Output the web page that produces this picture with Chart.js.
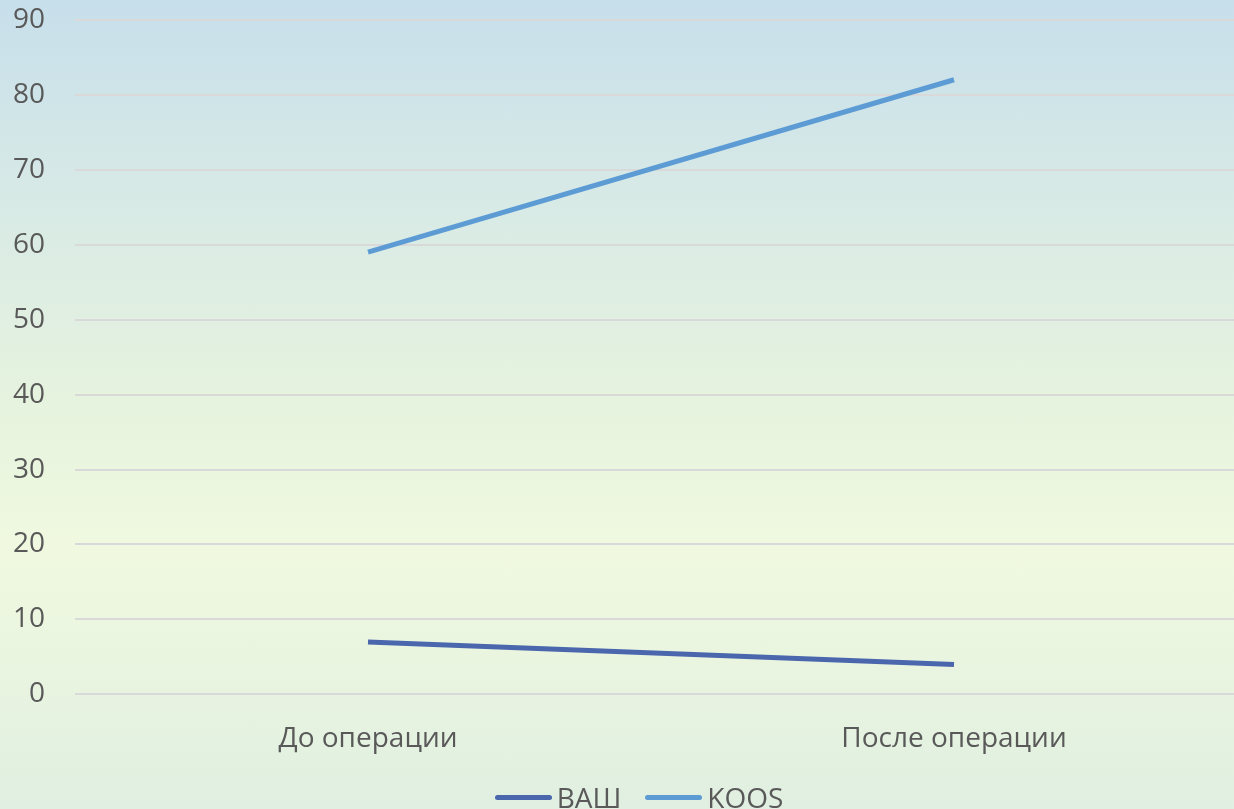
<!DOCTYPE html>
<html>
<head>
  <title>ВАШ / KOOS</title>
  <script src="https://cdn.jsdelivr.net/npm/chart.js"></script>
  <style>
    html, body {
      margin: 0;
      padding: 0;
      width: 1234px;
      height: 809px;
      overflow: hidden;
      position: relative;
      background: linear-gradient(to bottom, #c7dfeb 0%, #d8eae6 25%, #e6f3de 50%, #f0f9e0 68%, #e8f4e0 85%, #e0efe1 100%);
    }
    .chart-container {
      position: absolute;
      top: -27px;
      left: 0;
      width: 1247px;
      height: 836px;
    }
    .legend {
      position: absolute;
      left: 0;
      width: 1278px;
      top: 780px;
      height: 34px;
      display: flex;
      justify-content: center;
      align-items: center;
      font-family: 'Open Sans', 'Noto Sans', sans-serif;
      font-size: 28px;
      color: #595959;
      gap: 24px;
    }
    .legend-item {
      display: flex;
      align-items: center;
      gap: 5px;
    }
    .legend-line {
      display: inline-block;
      width: 57px;
      height: 5px;
      border-radius: 3px;
    }
  </style>
</head>
<body>
  <div class="chart-container">
    <canvas id="lineChart"></canvas>
  </div>
  <div class="legend" id="legend"></div>

  <script>
    const categories = ['До операции', 'После операции'];
    const vasValues = [7, 4];
    const koosValues = [59, 82];
    const yTicks = { min: 0, max: 90, step: 10 };

    const fontFamily = "'Open Sans', 'Noto Sans', sans-serif";

    const ctx = document.getElementById('lineChart').getContext('2d');

    const chart = new Chart(ctx, {
      type: 'line',
      data: {
        labels: categories,
        datasets: [
          {
            label: 'ВАШ',
            data: vasValues,
            borderColor: '#4a67ad',
            backgroundColor: '#4a67ad',
            borderWidth: 5,
            pointRadius: 0,
            tension: 0
          },
          {
            label: 'KOOS',
            data: koosValues,
            borderColor: '#5d9bd4',
            backgroundColor: '#5d9bd4',
            borderWidth: 5,
            pointRadius: 0,
            tension: 0
          }
        ]
      },
      options: {
        responsive: true,
        maintainAspectRatio: false,
        animation: false,
        layout: {
          padding: { top: 0, left: -17, right: 0, bottom: 33 }
        },
        plugins: {
          tooltip: { enabled: false },
          legend: { display: false }
        },
        scales: {
          x: {
            offset: true,
            grid: { display: false },
            border: { display: false },
            ticks: {
              color: '#595959',
              font: { family: fontFamily, size: 28 },
              padding: 20
            }
          },
          y: {
            min: yTicks.min,
            max: yTicks.max,
            border: { display: false },
            grid: {
              color: '#d9d9d9',
              lineWidth: 2,
              drawTicks: false
            },
            ticks: {
              stepSize: yTicks.step,
              color: '#595959',
              font: { family: fontFamily, size: 28 },
              padding: 30
            }
          }
        }
      }
    });

    // legend built from the datasets
    const legend = document.getElementById('legend');
    chart.data.datasets.forEach(ds => {
      const item = document.createElement('div');
      item.className = 'legend-item';
      const line = document.createElement('span');
      line.className = 'legend-line';
      line.style.background = ds.borderColor;
      const text = document.createElement('span');
      text.textContent = ds.label;
      item.appendChild(line);
      item.appendChild(text);
      legend.appendChild(item);
    });
  </script>
</body>
</html>
